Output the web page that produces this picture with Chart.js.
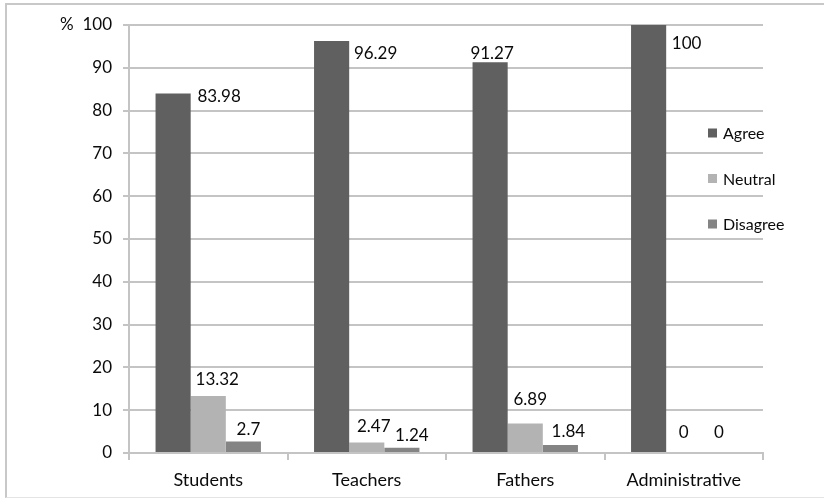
<!DOCTYPE html>
<html>
<head>
<meta charset="utf-8">
<script src="https://cdn.jsdelivr.net/npm/chart.js@4.4.1/dist/chart.umd.min.js"></script>
<style>
  html, body { margin: 0; padding: 0; background: #ffffff; }
  #wrap { position: relative; width: 824px; height: 499px; overflow: hidden; }
  #frame {
    position: absolute; left: 5px; top: 3px; right: -10px; bottom: 1px;
    border-top: 2px solid #c8c8c8; border-left: 2px solid #c8c8c8;
    border-bottom: 1px solid #e4e4e4;
  }
  #chart { position: absolute; left: 0; top: 0; }
</style>
</head>
<body>
<div id="wrap">
  <div id="frame"></div>
  <canvas id="chart" width="824" height="499"></canvas>
</div>
<script>
// Survey groups and their answer shares (%)
const groups   = ['Students', 'Teachers', 'Fathers', 'Administrative'];
const agree    = [83.98, 96.29, 91.27, 100];
const neutral  = [13.32, 2.47, 6.89, 0];
const disagree = [2.7, 1.24, 1.84, 0];

// Nudge of each value label from the top centre of its bar [dx, dy]
const labelNudge = [
  [[46, 3], [44, 13], [2, -9], [38, 19]],
  [[9, -16], [7, -16], [5, -24], [0, -20]],
  [[5, -12], [10, -12], [8, -14], [0, -20]]
];

const FONT = 'Lato, "Open Sans", sans-serif';
const GRID = '#c4c4c4';
const INK = '#0a0a0a';

const valueLabels = {
  id: 'valueLabels',
  afterDatasetsDraw(chart) {
    const ctx = chart.ctx;
    ctx.save();
    ctx.font = '17px ' + FONT;
    ctx.fillStyle = INK;
    ctx.textAlign = 'center';
    ctx.textBaseline = 'middle';
    chart.data.datasets.forEach((ds, di) => {
      const meta = chart.getDatasetMeta(di);
      meta.data.forEach((bar, i) => {
        const [dx, dy] = labelNudge[di][i];
        ctx.fillText(String(ds.data[i]), bar.x + dx, bar.y + dy);
      });
    });
    ctx.restore();
  }
};

const sideLegend = {
  id: 'sideLegend',
  afterDraw(chart) {
    const ctx = chart.ctx;
    ctx.save();
    ctx.font = '16px ' + FONT;
    ctx.textBaseline = 'middle';
    ctx.textAlign = 'left';
    const x0 = 708, y0 = 133, step = 45.5;
    chart.data.datasets.forEach((ds, i) => {
      const y = y0 + i * step;
      ctx.fillStyle = ds.backgroundColor;
      ctx.fillRect(x0, y - 4.5, 9, 9);
      ctx.fillStyle = INK;
      ctx.fillText(ds.label, x0 + 15, y + 1);
    });
    ctx.restore();
  }
};

new Chart(document.getElementById('chart'), {
  type: 'bar',
  data: {
    labels: groups,
    datasets: [
      { label: 'Agree',    data: agree,    backgroundColor: '#606060' },
      { label: 'Neutral',  data: neutral,  backgroundColor: '#b3b3b3' },
      { label: 'Disagree', data: disagree, backgroundColor: '#848484' }
    ]
  },
  options: {
    responsive: false,
    animation: false,
    devicePixelRatio: 1,
    layout: { padding: { left: 0, right: 61, top: 25, bottom: 0 } },
    datasets: { bar: { categoryPercentage: 0.665, barPercentage: 1 } },
    plugins: {
      legend: { display: false },
      tooltip: { enabled: false }
    },
    scales: {
      x: {
        grid: { offset: true, drawOnChartArea: false, color: GRID, lineWidth: 2, tickLength: 7 },
        border: { display: true, color: GRID, width: 2 },
        ticks: { color: INK, font: { family: FONT, size: 18 }, padding: 9 },
        afterFit(scale) { scale.height = 46; }
      },
      y: {
        min: 0, max: 100,
        grid: { color: GRID, lineWidth: 2, tickLength: 6 },
        border: { display: true, color: GRID, width: 2 },
        ticks: {
          stepSize: 10,
          color: INK,
          font: { family: FONT, size: 17 },
          padding: 11,
          callback: v => (v === 100 ? '%  100' : v)
        },
        afterFit(scale) { scale.width = 129; }
      }
    }
  },
  plugins: [valueLabels, sideLegend]
});
</script>
</body>
</html>
